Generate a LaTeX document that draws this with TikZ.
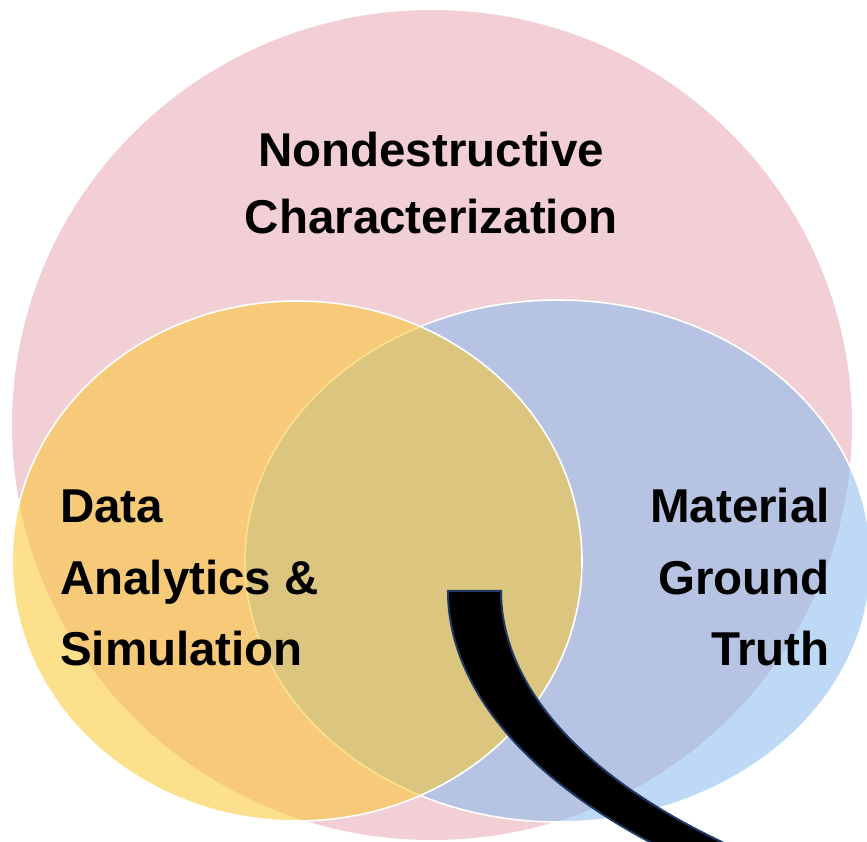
\documentclass[tikz,border=0pt]{standalone}
\usepackage{fontspec}
\setmainfont{Liberation Sans}
\definecolor{pinkset}{RGB}{242,207,212}
\definecolor{blueset}{RGB}{135,186,239}
\definecolor{goldset}{RGB}{250,199,46}
\definecolor{bandedge}{RGB}{31,56,100}
\begin{document}
\begin{tikzpicture}[x=1pt,y=1pt,
  setring/.style={draw=white, line width=1.6pt, fill opacity=0.55},
  vtext/.style={inner sep=0pt, text=black},
  band/.style={fill=black, draw=bandedge, line width=2pt, line join=miter}]
\useasboundingbox (0,0) rectangle (867,841);
\clip (0,0) rectangle (867,841);

% outer set
\fill[pinkset] (432,416) ellipse [x radius=420pt, y radius=415pt];
% the two inner sets, semi-transparent with white rims
\filldraw[setring, fill=blueset] (558,280) ellipse [x radius=313pt, y radius=261pt];
\filldraw[setring, fill=goldset] (297,280) ellipse [x radius=285pt, y radius=260pt];

% curved black band
\coordinate (bandTL) at (448,250);
\coordinate (bandTR) at (501,250);
\filldraw[band] (bandTL)
  arc[start angle=180, end angle=225, x radius=800pt, y radius=378pt]
  -- (729.46,-4.56)
  arc[start angle=225, end angle=180, x radius=780pt, y radius=360pt]
  -- (bandTR) -- cycle;

% set labels
\node[vtext, anchor=base] (ndc) at (431,674)
  {\bfseries\fontsize{47.5}{67}\selectfont
   \begin{tabular}[t]{@{}c@{}}Nondestructive\\Characterization\end{tabular}};
\node[vtext, anchor=base west] (das) at (60,318)
  {\bfseries\fontsize{47.5}{71.5}\selectfont
   \begin{tabular}[t]{@{}l@{}}Data\\Analytics \&\\Simulation\end{tabular}};
\node[vtext, anchor=base east] (mgt) at (830,318)
  {\bfseries\fontsize{47.5}{71.5}\selectfont
   \begin{tabular}[t]{@{}r@{}}Material\\Ground\\Truth\end{tabular}};
\end{tikzpicture}
\end{document}
